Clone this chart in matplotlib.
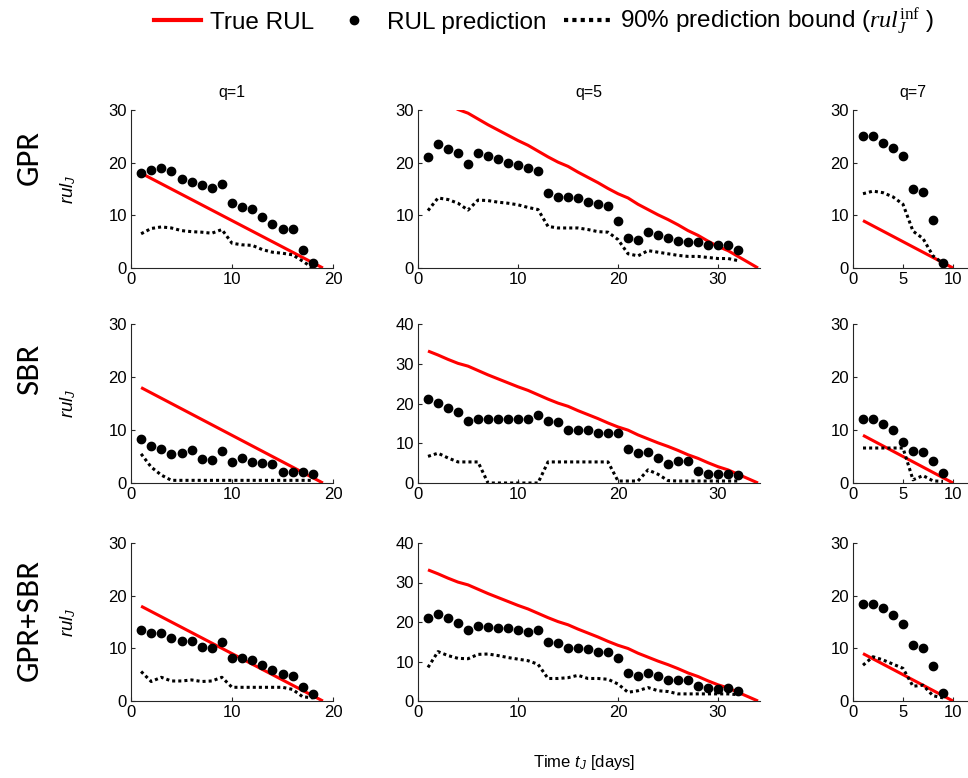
import matplotlib
matplotlib.use("Agg")
import matplotlib.pyplot as plt
from matplotlib.lines import Line2D

plt.rcParams['font.family'] = ['Liberation Sans', 'DejaVu Sans']
plt.rcParams['mathtext.fontset'] = 'custom'
plt.rcParams['mathtext.rm'] = 'Liberation Serif'
plt.rcParams['mathtext.it'] = 'Liberation Serif:italic'
plt.rcParams['mathtext.sf'] = 'Liberation Sans:italic'

# time axis (days)
days_q1 = list(range(1, 19))
days_q5 = list(range(1, 33))
days_q7 = list(range(1, 10))
days_true_q1 = list(range(1, 20))
days_true_q5 = list(range(1, 35))
days_true_q7 = list(range(1, 11))

# true remaining useful life
true_q1 = [18, 17, 16, 15, 14, 13, 12, 11, 10, 9, 8, 7, 6, 5, 4, 3, 2, 1, 0]
true_q5 = [33.2, 32.2, 31.1, 30.1, 29.4, 28.3, 27.2, 26.2, 25.2, 24.2, 23.3, 22.2,
           21.1, 20.1, 19.3, 18.2, 17.2, 16.2, 15.1, 14.1, 13.3, 12.1, 11.1, 10.1,
           9.2, 8.2, 7.1, 6.2, 5.1, 4.1, 3.3, 2.2, 1.1, 0]
true_q7 = [9, 8, 7, 6, 5, 4, 3, 2, 1, 0]

# GPR
gpr_pred_q1 = [18.1, 18.6, 18.9, 18.4, 16.9, 16.4, 15.8, 15.2, 16.0, 12.4, 11.5, 11.2,
               9.7, 8.4, 7.5, 7.5, 3.5, 0.9]
gpr_bound_q1 = [6.5, 7.5, 7.8, 7.6, 7.1, 6.9, 6.8, 6.6, 7.3, 4.7, 4.4, 4.3,
                3.5, 3.0, 2.8, 2.5, 1.3, 0.0]
gpr_pred_q5 = [21.0, 23.5, 22.6, 21.8, 19.8, 21.8, 21.2, 20.7, 20.0, 19.5, 19.0, 18.4,
               14.3, 13.5, 13.5, 13.2, 12.6, 12.1, 11.7, 8.9, 5.7, 5.4, 6.9, 6.3,
               5.7, 5.2, 4.9, 4.9, 4.4, 4.4, 4.4, 3.5]
gpr_bound_q5 = [10.9, 13.3, 13.0, 12.3, 11.0, 12.9, 12.8, 12.5, 12.3, 12.0, 11.5, 11.1,
                7.9, 7.6, 7.6, 7.6, 7.3, 6.9, 6.8, 5.4, 2.7, 2.3, 3.3, 3.0,
                2.7, 2.4, 2.2, 2.2, 2.0, 1.8, 1.8, 1.4]
gpr_pred_q7 = [25.0, 25.0, 23.8, 22.8, 21.3, 15.0, 14.4, 9.1, 1.0]
gpr_bound_q7 = [14.1, 14.6, 14.3, 13.5, 12.1, 7.0, 5.6, 2.3, 0.9]

# SBR
sbr_pred_q1 = [8.3, 6.9, 6.4, 5.5, 5.7, 6.3, 4.6, 4.3, 6.0, 4.0, 4.7, 4.0,
               3.8, 3.5, 2.0, 2.0, 2.0, 1.7]
sbr_bound_q1 = [5.5, 3.0, 1.5, 0.5, 0.5, 0.5, 0.5, 0.5, 0.5, 0.5, 0.5, 0.5,
                0.5, 0.5, 0.5, 0.5, 0.5, 0.5]
sbr_pred_q5 = [21.2, 20.1, 18.9, 17.9, 15.7, 16.0, 16.0, 16.0, 16.0, 16.0, 16.0, 17.1,
               15.7, 15.3, 13.4, 13.4, 13.4, 12.7, 12.7, 12.7, 8.6, 7.5, 7.8, 6.4,
               4.9, 5.6, 5.6, 2.9, 2.3, 2.3, 2.3, 2.0]
sbr_bound_q5 = [6.7, 7.5, 6.3, 5.3, 5.3, 5.3, 0.0, 0.0, 0.0, 0.0, 0.0, 0.0,
                5.3, 5.3, 5.3, 5.3, 5.3, 5.3, 5.3, 0.5, 0.5, 0.5, 3.3, 2.2,
                0.6, 0.5, 0.5, 0.5, 0.5, 0.5, 0.5, 0.5]
sbr_pred_q7 = [12.0, 12.0, 11.1, 10.0, 7.8, 6.0, 5.8, 4.1, 1.8]
sbr_bound_q7 = [6.6, 6.6, 6.6, 6.6, 6.6, 0.6, 1.4, 0.4, 0.3]

# GPR+SBR
mix_pred_q1 = [13.4, 12.9, 12.9, 12.0, 11.4, 11.4, 10.2, 10.0, 11.2, 8.2, 8.2, 7.7,
               6.8, 5.9, 5.1, 4.7, 2.7, 1.3]
mix_bound_q1 = [5.6, 3.7, 4.5, 3.8, 3.8, 4.0, 3.7, 3.8, 4.5, 2.6, 2.6, 2.6,
                2.6, 2.6, 2.6, 2.2, 0.8, 0.6]
mix_pred_q5 = [20.9, 22.0, 20.9, 19.8, 17.9, 19.0, 18.8, 18.4, 18.4, 17.9, 17.5, 17.9,
               14.9, 14.7, 13.5, 13.5, 13.1, 12.5, 12.5, 10.8, 7.1, 6.4, 7.1, 6.4,
               5.2, 5.2, 5.2, 3.8, 3.4, 3.1, 3.4, 2.6]
mix_bound_q5 = [8.5, 12.5, 11.5, 10.8, 10.7, 11.8, 11.9, 11.5, 11.0, 10.6, 10.2, 9.3,
                5.7, 5.7, 5.9, 6.5, 5.7, 5.7, 5.5, 4.3, 2.2, 2.6, 3.4, 2.6,
                2.4, 1.8, 1.8, 1.8, 1.8, 1.8, 1.8, 1.6]
mix_pred_q7 = [18.4, 18.4, 17.6, 16.4, 14.7, 10.7, 10.1, 6.6, 1.6]
mix_bound_q7 = [6.8, 8.4, 7.8, 7.0, 6.2, 2.8, 3.0, 1.0, 0.6]

row_names = ['GPR', 'SBR', 'GPR+SBR']
col_titles = ['q=1', 'q=5', 'q=7']

panels = [
    [(gpr_pred_q1, gpr_bound_q1), (gpr_pred_q5, gpr_bound_q5), (gpr_pred_q7, gpr_bound_q7)],
    [(sbr_pred_q1, sbr_bound_q1), (sbr_pred_q5, sbr_bound_q5), (sbr_pred_q7, sbr_bound_q7)],
    [(mix_pred_q1, mix_bound_q1), (mix_pred_q5, mix_bound_q5), (mix_pred_q7, mix_bound_q7)],
]
days_pred = [days_q1, days_q5, days_q7]
days_true = [days_true_q1, days_true_q5, days_true_q7]
true_rul = [true_q1, true_q5, true_q7]

# panel geometry in pixels (figure 968 x 778)
W, H = 968, 778
col_px = [(131, 202), (418, 342), (853, 120)]
row_px = [(110, 158), (324, 159), (543, 158)]
col_xlim = [(0, 20), (0, 34.2), (0, 12)]
col_xticks = [[0, 10, 20], [0, 10, 20, 30], [0, 5, 10]]
row_ymax = [[30, 30, 30], [30, 40, 30], [30, 40, 30]]

RED = '#ff0000'
DOTS = (0, (1.0, 1.0))

fig = plt.figure(figsize=(W / 100, H / 100), dpi=100, facecolor='white')

for r in range(3):
    for c in range(3):
        left, width = col_px[c]
        top, height = row_px[r]
        ax = fig.add_axes([left / W, 1 - (top + height) / H, width / W, height / H])
        pred, bound = panels[r][c]

        ax.plot(days_true[c], true_rul[c], color=RED, lw=2.2, solid_capstyle='butt')
        ax.plot(days_pred[c], bound, color='black', lw=2.2, linestyle=DOTS)
        ax.plot(days_pred[c], pred, 'o', color='black', ms=6, clip_on=False)

        ymax = row_ymax[r][c]
        ax.set_xlim(*col_xlim[c])
        ax.set_ylim(0, ymax)
        ax.set_xticks(col_xticks[c])
        ax.set_yticks(list(range(0, ymax + 1, 10)))

        for side in ['top', 'right']:
            ax.spines[side].set_visible(False)
        for side in ['left', 'bottom']:
            ax.spines[side].set_color('#262626')
            ax.spines[side].set_linewidth(0.8)
        ax.tick_params(direction='in', length=3, width=0.8, labelsize=12,
                       colors='#262626', labelcolor='black', pad=3)

        if r == 0:
            ax.set_title(col_titles[c], fontsize=11.5, pad=9)
        if c == 0:
            ax.set_ylabel(r'$\mathsf{rul}_{\mathsf{J}}$', fontsize=13.5)
            ax.yaxis.set_label_coords(-0.26, 0.5)

# row names on the left
row_y = [158, 370, 620]
for name, y in zip(row_names, row_y):
    fig.text(30 / W, 1 - y / H, name, rotation=90, ha='center', va='center',
             fontsize=20, fontweight='medium', family=['Lato', 'DejaVu Sans'])

fig.text(584 / W, 1 - 762 / H, r'Time $\mathsf{t}_{\mathsf{J}}$ [days]',
         ha='center', va='center', fontsize=12)

# legend across the top
handles = [
    Line2D([], [], color=RED, lw=3),
    Line2D([], [], marker='o', color='black', ms=6, linestyle='none'),
    Line2D([], [], color='black', lw=3, linestyle=DOTS),
]
labels = ['True RUL', 'RUL prediction',
          r'90% prediction bound ($rul_{J}^{\mathrm{inf}}$ )']
fig.legend(handles, labels, loc='center', bbox_to_anchor=(544 / W, 1 - 22 / H),
           ncol=3, frameon=False, handlelength=1.9, handletextpad=0.4,
           columnspacing=0.7, borderpad=0,
           prop={'family': ['Liberation Sans'], 'size': 17.5})

fig.savefig('out.png', dpi=100, facecolor='white')
